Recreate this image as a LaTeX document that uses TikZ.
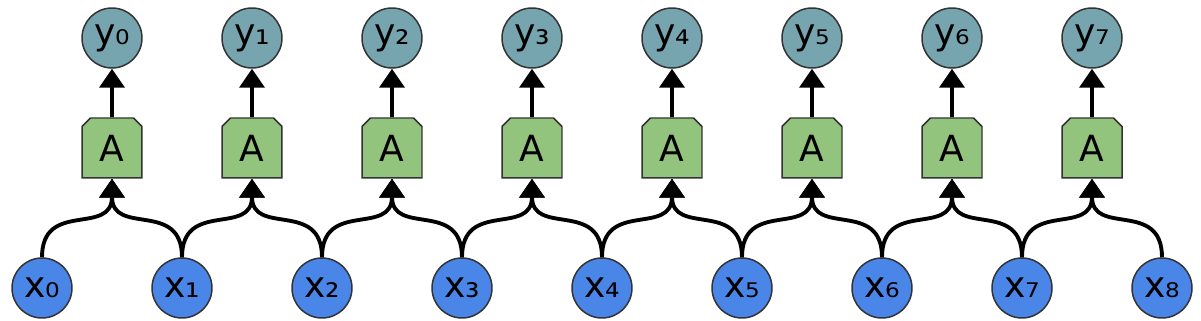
\documentclass[tikz,border=0pt]{standalone}
\usepackage{fontspec}
\setmainfont{DejaVu Sans}
\usetikzlibrary{arrows.meta,shapes.misc}
\definecolor{inblue}{RGB}{74,134,232}
\definecolor{cellgreen}{RGB}{147,196,125}
\definecolor{outteal}{RGB}{118,165,175}
\definecolor{edgegray}{RGB}{51,51,51}
\begin{document}
\begin{tikzpicture}[x=0.02cm,y=0.02cm,
  every node/.style={font=\fontsize{20.5}{24}\selectfont,text=black},
  xin/.style={circle,draw=edgegray,line width=0.85pt,fill=inblue,minimum size=1.2cm,inner sep=0pt},
  yout/.style={circle,draw=edgegray,line width=0.85pt,fill=outteal,minimum size=1.2cm,inner sep=0pt},
  cell/.style={chamfered rectangle,chamfered rectangle corners={north west,north east},
    chamfered rectangle xsep=0.085cm,chamfered rectangle ysep=0.085cm,
    draw=edgegray,line width=0.85pt,fill=cellgreen,minimum width=1.2cm,minimum height=1.2cm,inner sep=0pt},
  flow/.style={-{Triangle[width=0.5cm,length=0.38cm]},line width=2.2pt,black}]
\useasboundingbox (0,0) rectangle (1201,321);
\foreach \i/\s in {0/₀,1/₁,2/₂,3/₃,4/₄,5/₅,6/₆,7/₇,8/₈}{
  \node[xin](x\i) at (42+140*\i,33) {x\s};}
\foreach \i/\s in {0/₀,1/₁,2/₂,3/₃,4/₄,5/₅,6/₆,7/₇}{
  \node[cell](A\i) at (112+140*\i,173) {A};
  \node[yout](y\i) at (112+140*\i,283) {y\s};
  \draw[flow] (A\i) -- (y\i);}
\foreach \i [evaluate=\i as \j using int(\i+1)] in {0,...,7}{
  \draw[flow] (x\i.north) to[out=90,in=-90,looseness=1.4] (A\i.south);
  \draw[flow] (x\j.north) to[out=90,in=-90,looseness=1.4] (A\i.south);}
\end{tikzpicture}
\end{document}
